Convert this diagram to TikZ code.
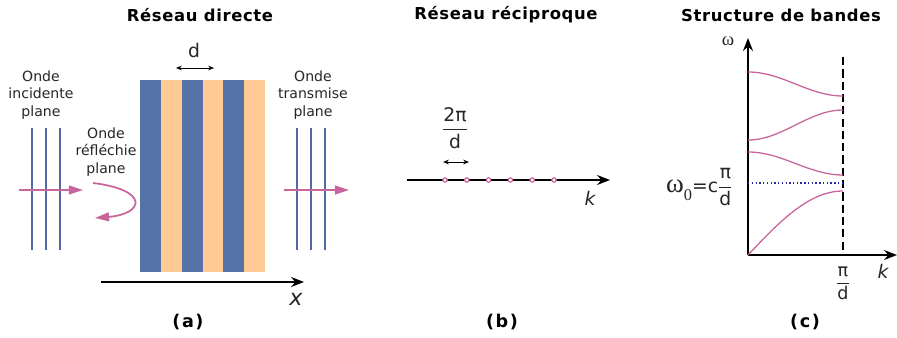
\documentclass[tikz,border=0pt]{standalone}
\usepackage{fontspec}
\setmainfont{DejaVu Sans}
\newfontfamily\greekfont{Liberation Serif}
\usetikzlibrary{arrows.meta}
\definecolor{stripeblue}{HTML}{5673A8}
\definecolor{stripeorange}{HTML}{FFCA94}
\definecolor{wavepink}{HTML}{C8659C}
\definecolor{waveblue}{HTML}{5069A8}
\definecolor{dotblue}{HTML}{2A2AA6}
\begin{document}
\begin{tikzpicture}[x=0.03cm, y=-0.03cm,
  lbl/.style={font=\fontsize{12}{14.9}\selectfont, align=center, text=black!85, inner sep=0pt},
  ttl/.style={font=\fontsize{14}{17}\selectfont\bfseries\addfontfeature{LetterSpace=4}, inner sep=0pt},
  capt/.style={font=\fontsize{15}{17}\selectfont\bfseries\addfontfeature{LetterSpace=9}, inner sep=0pt},
  wave/.style={waveblue, line width=1.3pt},
  ray/.style={wavepink, line width=1.5pt, -{Triangle[length=12pt, width=7.5pt]}},
  band/.style={wavepink, line width=1.1pt},
  axis/.style={line width=1.6pt, -{Stealth[length=11pt, width=8.5pt]}},
  span/.style={line width=0.8pt, {Stealth[length=5pt, width=4pt]}-{Stealth[length=5pt, width=4pt]}}]
  \useasboundingbox (0,0) rectangle (897,338);
  % (a) direct lattice
  \begin{scope}
    \node[ttl] (titleA) at (200,15) {Réseau directe};
    \foreach \i in {0,1,2} {
      \fill[stripeblue] ({140+41.67*\i},80) rectangle +(21,192);
      \fill[stripeorange] ({161+41.67*\i},80) rectangle +(21,192);
    }
    \coordinate (dL) at (176,68); \coordinate (dR) at (214,68);
    \draw[span] (dL) -- (dR);
    \node[lbl, font=\fontsize{16}{18}\selectfont] (dA) at (194,51) {d};
    \coordinate (xS) at (101,282); \coordinate (xE) at (304,282);
    \draw[axis] (xS) -- (xE);
    \node[lbl, font=\fontsize{19}{21}\selectfont\itshape] (xA) at (296,299) {x};
    \foreach \x in {32,46,60} \draw[wave] (\x,128) -- (\x,250);
    \foreach \x in {297,311,325} \draw[wave] (\x,128) -- (\x,250);
    \node[lbl] (inc) at (41,95) {Onde\\incidente\\plane};
    \node[lbl] (refl) at (106,152) {Onde\\réfléchie\\plane};
    \node[lbl] (trans) at (313,95) {Onde\\transmise\\plane};
    \coordinate (incS) at (19,190); \coordinate (incE) at (83,190);
    \draw[ray] (incS) -- (incE);
    \coordinate (refS) at (93,183); \coordinate (refE) at (95,218);
    \draw[ray] (refS) .. controls (150,190) and (144,214) .. (refE);
    \coordinate (trS) at (284,190); \coordinate (trE) at (349,190);
    \draw[ray] (trS) -- (trE);
    \node[capt] (capA) at (188,322) {(a)};
  \end{scope}
  % (b) reciprocal lattice
  \begin{scope}
    \node[ttl] (titleB) at (506,15) {Réseau réciproque};
    \coordinate (kS) at (407,180); \coordinate (kE) at (610,180);
    \draw[axis] (kS) -- (kE);
    \foreach \i in {0,...,5}
      \draw[wavepink, line width=1pt, fill=white] ({445+21.8*\i},180) circle (2.2);
    \node[lbl, font=\fontsize{16}{18}\selectfont] (kB) at (590,198) {\itshape k};
    \node[lbl, font=\fontsize{16}{18}\selectfont] (per) at (455,128) {$\displaystyle\frac{\mbox{2π}}{\mbox{d}}$};
    \coordinate (pL) at (443,162); \coordinate (pR) at (469,162);
    \draw[span] (pL) -- (pR);
    \node[capt] (capB) at (502,322) {(b)};
  \end{scope}
  % (c) band structure
  \begin{scope}
    \node[ttl] (titleC) at (781,15) {Structure de bandes};
    \coordinate (O) at (748,255);
    \coordinate (wE) at (748,38); \coordinate (kC) at (897,255);
    \draw[axis] (O) -- (wE);
    \draw[axis] (O) -- (kC);
    \coordinate (zT) at (843,57); \coordinate (zB) at (843,255);
    \draw[line width=1.1pt, dash pattern=on 7pt off 3.5pt] (zT) -- (zB);
    \coordinate (gL) at (748,183); \coordinate (gR) at (843,183);
    \draw[dotblue, dotted, line width=1.2pt] (gL) -- (gR);
    \draw[band, domain=0:1, samples=40] plot ({748+95*\x},{255-64*sin(90*\x)});
    \draw[band, domain=0:1, samples=40] plot ({748+95*\x},{152+23*(1-cos(180*\x))/2});
    \draw[band, domain=0:1, samples=40] plot ({748+95*\x},{140-30*(1-cos(180*\x))/2});
    \draw[band, domain=0:1, samples=40] plot ({748+95*\x},{72+24*(1-cos(180*\x))/2});
    \node[lbl, font=\fontsize{16}{16}\selectfont\greekfont] (wC) at (728,41) {ω};
    \node[lbl, anchor=base east, font=\fontsize{16}{18}\selectfont] (w0) at (733,192)
      {{\greekfont\fontsize{23}{23}\selectfont ω}\raisebox{-0.8ex}{\greekfont\fontsize{14}{14}\selectfont 0}=c$\displaystyle\frac{\mbox{π}}{\mbox{d}}$};
    \node[lbl, font=\fontsize{15}{17}\selectfont] (zone) at (843,283) {$\displaystyle\frac{\mbox{π}}{\mbox{d}}$};
    \node[lbl, font=\fontsize{16}{18}\selectfont] (kCl) at (883,271) {\itshape k};
    \node[capt] (capC) at (805,322) {(c)};
  \end{scope}
\end{tikzpicture}
\end{document}
